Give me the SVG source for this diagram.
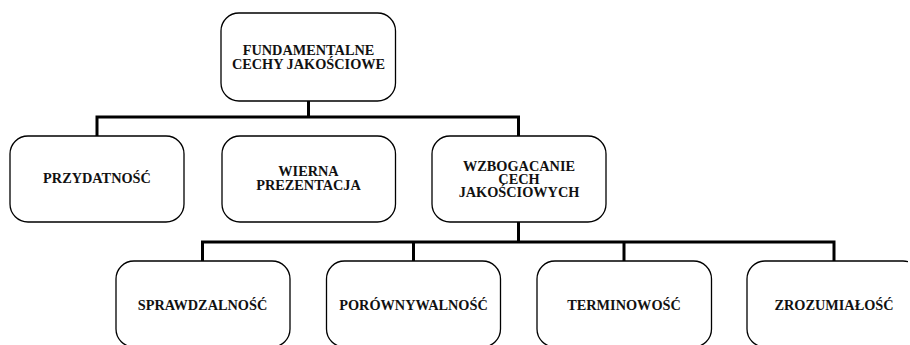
<svg xmlns="http://www.w3.org/2000/svg" width="910" height="345" viewBox="0 0 910 345">
<defs>
<style>
.box{fill:#fff;stroke:#000;stroke-width:1.3}
.t{font-family:"Liberation Serif","Times New Roman",serif;font-weight:bold;font-size:14.3px;fill:#111;text-anchor:middle}
.c{fill:none;stroke:#000;stroke-width:3}
</style>
<clipPath id="clip"><rect x="0" y="0" width="908" height="345"/></clipPath>
</defs>
<rect width="910" height="345" fill="#fff"/>
<g id="connectors">
<path class="c" d="M308.5 101V117M97 136V117H518.5V136"/>
<path class="c" d="M518.5 222V242M202.5 261V242H834V261M413.5 242V261M624 242V261"/>
</g>
<g id="n-fundamentalne">
<rect class="box" x="221" y="13" width="174.5" height="88" rx="18"/>
<text class="t" x="308.5" y="54.5">FUNDAMENTALNE</text>
<text class="t" x="308.5" y="68.5">CECHY JAKOŚCIOWE</text>
</g>
<g id="n-przydatnosc">
<rect class="box" x="10" y="136" width="174" height="86" rx="18"/>
<text class="t" x="97" y="182.7">PRZYDATNOŚĆ</text>
</g>
<g id="n-wierna">
<rect class="box" x="222" y="136" width="173.5" height="86" rx="18"/>
<text class="t" x="308.5" y="175.7">WIERNA</text>
<text class="t" x="308.5" y="190">PREZENTACJA</text>
</g>
<g id="n-wzbogacanie">
<rect class="box" x="432" y="136" width="174" height="86" rx="18"/>
<text class="t" x="519" y="170.7">WZBOGACANIE</text>
<text class="t" x="519" y="183.5">CECH</text>
<text class="t" x="519" y="196.7">JAKOŚCIOWYCH</text>
</g>
<g id="n-sprawdzalnosc">
<rect class="box" x="116" y="261" width="174" height="86" rx="18"/>
<text class="t" x="202.5" y="310">SPRAWDZALNOŚĆ</text>
</g>
<g id="n-porownywalnosc">
<rect class="box" x="326.5" y="261" width="174" height="86" rx="18"/>
<text class="t" x="413.5" y="310">PORÓWNYWALNOŚĆ</text>
</g>
<g id="n-terminowosc">
<rect class="box" x="537" y="261" width="174.5" height="86" rx="18"/>
<text class="t" x="624" y="310">TERMINOWOŚĆ</text>
</g>
<g id="n-zrozumialosc" clip-path="url(#clip)">
<rect class="box" x="747" y="261" width="174" height="86" rx="18"/>
<text class="t" x="834" y="310">ZROZUMIAŁOŚĆ</text>
</g>
</svg>
